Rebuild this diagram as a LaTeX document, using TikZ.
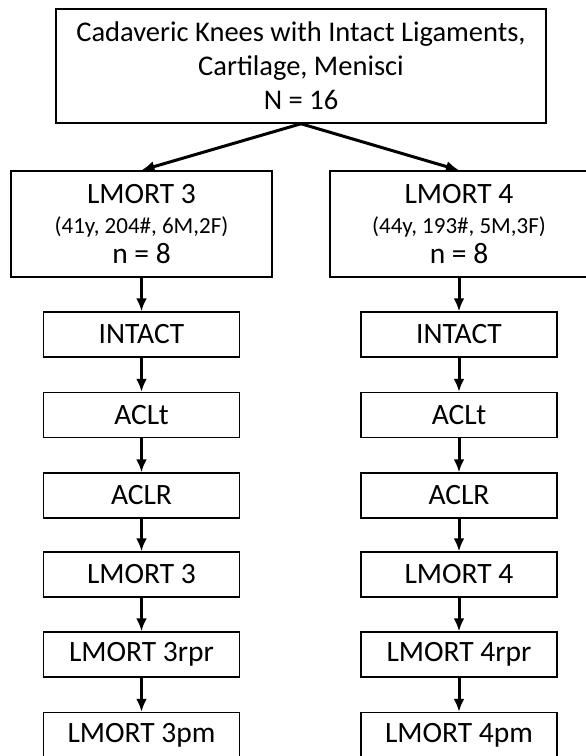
\documentclass[tikz,border=0pt]{standalone}
\usepackage{fontspec}
\setmainfont{Carlito}
\usetikzlibrary{arrows.meta,positioning}

\tikzset{
  box/.style={draw, line width=1.5pt, inner sep=0pt, align=center},
  stage/.style={box, minimum width=196pt, minimum height=45pt, font=\fontsize{29.5}{32}\selectfont},
  arr/.style={-{Latex[length=13pt,width=11pt]}, line width=3pt},
}

\begin{document}
\begin{tikzpicture}[x=1pt,y=-1pt]
  \useasboundingbox (0,0) rectangle (586,756);
  \clip (0,0) rectangle (586,756);
  % whole sample
  \node[box, minimum width=490pt, minimum height=114pt, font=\fontsize{28.5}{34}\selectfont]
    (top) at (301,66) {Cadaveric Knees with Intact Ligaments,\\Cartilage, Menisci\\N = 16};
  % the two groups
  \node[box, minimum width=261pt, minimum height=106pt, font=\fontsize{29.5}{30}\selectfont]
    (L0) at (141.5,224) {LMORT 3\\{\fontsize{23}{23}\selectfont (41y, 204\#, 6M,2F)}\\n = 8};
  \node[box, minimum width=258pt, minimum height=106pt, font=\fontsize{29.5}{30}\selectfont]
    (R0) at (459,224) {LMORT 4\\{\fontsize{23}{23}\selectfont (44y, 193\#, 5M,3F)}\\n = 8};
  % test states, one column per group
  \foreach \i/\y/\a/\b in {
    1/334.5/INTACT/INTACT,
    2/415/ACLt/ACLt,
    3/495.5/ACLR/ACLR,
    4/574.5/LMORT 3/LMORT 4,
    5/654.5/LMORT 3rpr/LMORT 4rpr,
    6/735/LMORT 3pm/LMORT 4pm} {
    \node[stage] (L\i) at (141.5,\y) {\a};
    \node[stage] (R\i) at (459,\y) {\b};
  }
  \draw[arr] (top.south) -- (L0.north);
  \draw[arr] (top.south) -- (R0.north);
  \foreach \i in {1,...,6} {
    \pgfmathtruncatemacro{\j}{\i-1}
    \draw[arr] (L\j) -- (L\i);
    \draw[arr] (R\j) -- (R\i);
  }
\end{tikzpicture}
\end{document}
